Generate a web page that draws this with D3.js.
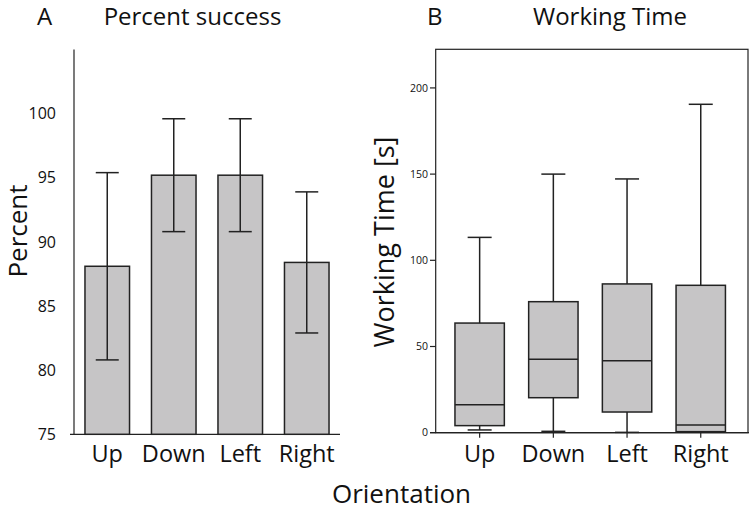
<!DOCTYPE html>
<html><head><meta charset="utf-8">
<script src="https://cdn.jsdelivr.net/npm/d3@7"></script>
<style>body{margin:0;background:#fff}svg{display:block}text{font-family:"Open Sans",sans-serif;fill:#111}</style>
</head><body><svg id="c" width="749" height="514"></svg>
<script>
const categories = ["Up", "Down", "Left", "Right"];
// Panel A: mean percent success with error bars
const percentMean = [88.1, 95.2, 95.2, 88.4];
const percentLow  = [80.8, 90.8, 90.8, 82.9];
const percentHigh = [95.4, 99.6, 99.6, 93.9];
const percentTicks = [75, 80, 85, 90, 95, 100];
// Panel B: working time box plots
const wtMin    = [1.6, 0.8, 0.2, 0.3];
const wtQ1     = [4.1, 20.3, 12.0, 0.6];
const wtMedian = [16.2, 42.6, 41.8, 4.5];
const wtQ3     = [63.6, 76.0, 86.3, 85.5];
const wtMax    = [113.3, 150.0, 147.2, 190.5];
const wtTicks  = [0, 50, 100, 150, 200];

const svg = d3.select("#c");
const fill = "#c6c5c6", stroke = "#222";

// ---------- Panel A ----------
const xA = d3.scaleBand().domain(categories).range([74, 340]).paddingInner(0.33).paddingOuter(0.165);
const yA = d3.scaleLinear().domain([75, 105]).range([434.3, 49.5]);
const gA = svg.append("g");
gA.append("line").attr("x1", 74).attr("x2", 74).attr("y1", yA(105)).attr("y2", yA(75)).attr("stroke", stroke).attr("stroke-width", 1.2);
gA.append("line").attr("x1", 70).attr("x2", 340).attr("y1", yA(75)).attr("y2", yA(75)).attr("stroke", stroke).attr("stroke-width", 1.2);
gA.selectAll("text.yt").data(percentTicks).join("text").attr("class","yt")
  .attr("x", 56).attr("y", d => yA(d)).attr("dy", "0.35em").attr("text-anchor", "end")
  .style("font-size", "16px").text(d => d);
categories.forEach((c, i) => {
  const x0 = xA(c), w = xA.bandwidth(), cx = x0 + w / 2;
  gA.append("rect").attr("x", x0).attr("y", yA(percentMean[i])).attr("width", w)
    .attr("height", yA(75) - yA(percentMean[i])).attr("fill", fill).attr("stroke", stroke).attr("stroke-width", 1.5);
  gA.append("line").attr("x1", cx).attr("x2", cx).attr("y1", yA(percentHigh[i])).attr("y2", yA(percentLow[i])).attr("stroke", stroke).attr("stroke-width", 1.5);
  [percentHigh[i], percentLow[i]].forEach(v => gA.append("line").attr("x1", cx - 11.5).attr("x2", cx + 11.5)
    .attr("y1", yA(v)).attr("y2", yA(v)).attr("stroke", stroke).attr("stroke-width", 1.5));
  gA.append("text").attr("x", cx).attr("y", 462).attr("text-anchor", "middle").style("font-size", "23.5px").text(c);
});
gA.append("text").attr("transform", "translate(27,231) rotate(-90)").attr("text-anchor", "middle").style("font-size", "26px").text("Percent");
svg.append("text").attr("x", 37).attr("y", 25).style("font-size", "24px").text("A");
svg.append("text").attr("x", 192.5).attr("y", 25).attr("text-anchor", "middle").style("font-size", "24px").text("Percent success");

// ---------- Panel B ----------
const xB = d3.scaleBand().domain(categories).range([442.8, 737.6]).paddingInner(0.33).paddingOuter(0.165);
const yB = d3.scaleLinear().domain([0, 222.4]).range([432.7, 49.3]);
const gB = svg.append("g");
gB.append("rect").attr("x", 435.7).attr("y", yB(222.4)).attr("width", 748 - 435.7).attr("height", yB(0) - yB(222.4))
  .attr("fill", "none").attr("stroke", stroke).attr("stroke-width", 1.2);
gB.append("line").attr("x1", 430).attr("x2", 749).attr("y1", yB(0)).attr("y2", yB(0)).attr("stroke", stroke).attr("stroke-width", 1.2);
wtTicks.forEach(t => {
  gB.append("line").attr("x1", 430).attr("x2", 435.7).attr("y1", yB(t)).attr("y2", yB(t)).attr("stroke", stroke).attr("stroke-width", 1.2);
  gB.append("text").attr("x", 428).attr("y", yB(t)).attr("dy", "0.35em").attr("text-anchor", "end").style("font-size", "10.5px").text(t);
});
categories.forEach((c, i) => {
  const x0 = xB(c), w = xB.bandwidth(), cx = x0 + w / 2;
  gB.append("line").attr("x1", cx).attr("x2", cx).attr("y1", yB(0)).attr("y2", yB(0) + 5).attr("stroke", stroke).attr("stroke-width", 1.2);
  gB.append("line").attr("x1", cx).attr("x2", cx).attr("y1", yB(wtMax[i])).attr("y2", yB(wtMin[i])).attr("stroke", stroke).attr("stroke-width", 1.5);
  [wtMax[i], wtMin[i]].forEach(v => gB.append("line").attr("x1", cx - 12).attr("x2", cx + 12)
    .attr("y1", yB(v)).attr("y2", yB(v)).attr("stroke", stroke).attr("stroke-width", 1.5));
  gB.append("rect").attr("x", x0).attr("y", yB(wtQ3[i])).attr("width", w).attr("height", yB(wtQ1[i]) - yB(wtQ3[i]))
    .attr("fill", fill).attr("stroke", stroke).attr("stroke-width", 1.5);
  gB.append("line").attr("x1", x0).attr("x2", x0 + w).attr("y1", yB(wtMedian[i])).attr("y2", yB(wtMedian[i])).attr("stroke", stroke).attr("stroke-width", 1.5);
  gB.append("text").attr("x", cx).attr("y", 462).attr("text-anchor", "middle").style("font-size", "23.5px").text(c);
});
gB.append("text").attr("transform", "translate(394,242) rotate(-90)").attr("text-anchor", "middle").style("font-size", "27px").text("Working Time [s]");
svg.append("text").attr("x", 427).attr("y", 25).style("font-size", "24px").text("B");
svg.append("text").attr("x", 610).attr("y", 25).attr("text-anchor", "middle").style("font-size", "24px").text("Working Time");

svg.append("text").attr("x", 401.5).attr("y", 503).attr("text-anchor", "middle").style("font-size", "26px").text("Orientation");
</script></body></html>
